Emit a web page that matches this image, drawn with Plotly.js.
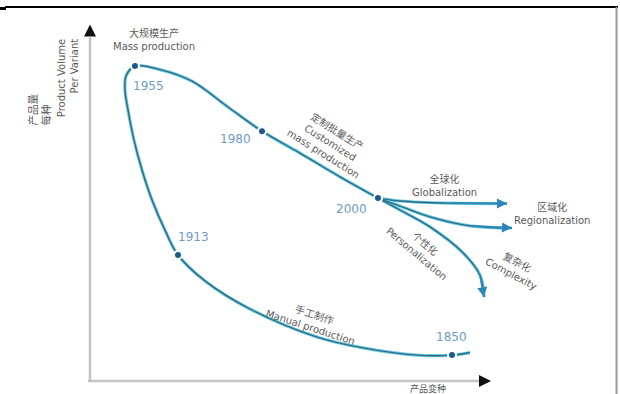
<!DOCTYPE html>
<html>
<head>
<meta charset="utf-8">
<script src="https://cdn.plot.ly/plotly-3.0.1.min.js"></script>
<style>html,body{margin:0;padding:0;background:#fff;}#chart{width:620px;height:394px;}</style>
</head>
<body>
<div id="chart"></div>
<script>
// ---- data (abstract units: x = product variety, y = product volume per variant) ----
const mainX = [95, 90.5, 81.75, 68.25, 56.75, 40, 28.75, 22, 18.75, 15.5, 13, 11, 9.5, 8.75, 9, 11.25, 17.5, 25.5, 34.5, 43, 52.5, 62.5, 72];
const mainY = [7.9, 7.2, 7.2, 9.2, 12.2, 20, 27.8, 35, 41.9, 50.3, 58.6, 66.9, 75.3, 80.8, 84.7, 87.5, 86.5, 83.3, 76.1, 69.4, 63.3, 56.7, 50.8];

const globX = [72, 77.5, 90, 104.25];
const globY = [50.8, 50, 49.4, 49.3];
const regX  = [72, 77.5, 85, 95, 105.5];
const regY  = [50.8, 48.6, 45.6, 43.1, 42.5];
const compX = [72, 77.5, 85, 93.25, 97.5, 98.5];
const compY = [50.8, 47.5, 42.8, 35.6, 29.4, 23.3];

const years   = ['1850', '1913', '1955', '1980', '2000'];
const yearX   = [90.5, 22, 11.25, 43, 72];
const yearY   = [7.2, 35, 87.5, 69.4, 50.8];
const yearLabX = [90.25, 25.75, 14.5, 36.25, 65.25];
const yearLabY = [12.2, 40, 81.9, 67.2, 47.8];

const stageZh  = ['大规模生产', '定制批量生产', '全球化', '区域化', '个性化', '复杂化', '手工制作'];
const stageEn  = ['Mass production', 'Customized<br>mass production', 'Globalization', 'Regionalization', 'Personalization', 'Complexity', 'Manual production'];
const stageX   = [16, 60, 88.5, 115.5, 82.75, 106, 55.5];
const stageY   = [94.8, 66.4, 54.4, 46.4, 36.7, 31.4, 16.9];
const stageAng = [0, 32, 0, 0, 40, 28, 18];

const yTitleZh = '产品量<br>每种';
const yTitleEn = 'Product Volume<br>Per Variant';
const xTitleZh = '产品变种';

// ---- styles ----
const FONT = 'DejaVu Sans, Noto Sans CJK SC, sans-serif';
const GLOW = '#6ccbe3', CORE = '#2f6c86', DOT = '#1d5a87', YEARC = '#6f9cc4', TXT = '#5a5a5a';

function curve(x, y, color, width) {
  return {x: x, y: y, mode: 'lines', type: 'scatter', hoverinfo: 'skip',
          line: {color: color, width: width, shape: 'spline', smoothing: 1}};
}
const branches = [[globX, globY], [regX, regY], [compX, compY]];
const traces = [];
traces.push(curve(mainX, mainY, GLOW, 3.2));
branches.forEach(b => traces.push(curve(b[0], b[1], GLOW, 3.2)));
traces.push(curve(mainX, mainY, CORE, 1.4));
branches.forEach(b => traces.push(curve(b[0], b[1], CORE, 1.4)));
traces.push({x: yearX, y: yearY, mode: 'markers', type: 'scatter', hoverinfo: 'skip',
  marker: {color: DOT, size: 8, line: {color: '#ffffff', width: 2}}});

const ann = [];
years.forEach((t, i) => ann.push({x: yearLabX[i], y: yearLabY[i], text: t, showarrow: false,
  font: {family: FONT, size: 12, color: YEARC}}));
stageZh.forEach((t, i) => ann.push({x: stageX[i], y: stageY[i], textangle: stageAng[i],
  text: t + '<br>' + stageEn[i], showarrow: false, align: 'center',
  font: {family: FONT, size: 10, color: TXT}}));
// branch arrowheads
branches.forEach(b => {
  const n = b[0].length;
  ann.push({x: b[0][n-1], y: b[1][n-1], ax: b[0][n-2], ay: b[1][n-2], axref: 'x', ayref: 'y',
    text: '', showarrow: true, arrowhead: 2, arrowsize: 1.25, arrowwidth: 1.6, arrowcolor: '#2b86b8'});
});
// axis arrows
ann.push({x: 0, y: 99, ax: 0, ay: 95.5, axref: 'x', ayref: 'y', text: '', showarrow: true,
  arrowhead: 2, arrowsize: 1.2, arrowwidth: 2, arrowcolor: '#111'});
ann.push({x: 100.25, y: 0, ax: 97.5, ay: 0, axref: 'x', ayref: 'y', text: '', showarrow: true,
  arrowhead: 2, arrowsize: 1.2, arrowwidth: 2, arrowcolor: '#111'});
// axis titles
ann.push({x: -12.6, y: 70.3, yanchor: 'bottom', textangle: -90, text: yTitleZh, align: 'left',
  showarrow: false, font: {family: FONT, size: 10.5, color: TXT}});
ann.push({x: -5.5, y: 95.5, yanchor: 'top', textangle: -90, text: yTitleEn, align: 'right',
  showarrow: false, font: {family: FONT, size: 10, color: TXT}});
ann.push({x: 84.5, y: -2.1, text: xTitleZh, showarrow: false, font: {family: FONT, size: 9, color: TXT}});

const shapes = [
  {type: 'line', xref: 'x', yref: 'y', x0: 0, y0: 0, x1: 0, y1: 95.5, line: {color: '#c4c4c4', width: 2.5}},
  {type: 'line', xref: 'x', yref: 'y', x0: -0.5, y0: 0, x1: 97.5, y1: 0, line: {color: '#c4c4c4', width: 2.5}},
  {type: 'line', xref: 'paper', yref: 'paper', x0: 5/620, y0: 1-7/394, x1: 618/620, y1: 1-7/394, line: {color: '#000', width: 2}},
  {type: 'rect', xref: 'paper', yref: 'paper', x0: 0, y0: 1-10/394, x1: 6/620, y1: 1-7/394, fillcolor: '#000', line: {width: 0}},
  {type: 'line', xref: 'paper', yref: 'paper', x0: 616.5/620, y0: 0, x1: 616.5/620, y1: 1-7/394, line: {color: '#9a9a9a', width: 2}}
];

const layout = {
  width: 620, height: 394, margin: {l: 0, r: 0, t: 0, b: 0},
  paper_bgcolor: '#fff', plot_bgcolor: '#fff', showlegend: false,
  xaxis: {range: [-22.5, 132.5], visible: false, fixedrange: true},
  yaxis: {range: [-3.611, 105.833], visible: false, fixedrange: true},
  annotations: ann, shapes: shapes
};
Plotly.newPlot('chart', traces, layout, {staticPlot: true, displayModeBar: false});
</script>
</body>
</html>
